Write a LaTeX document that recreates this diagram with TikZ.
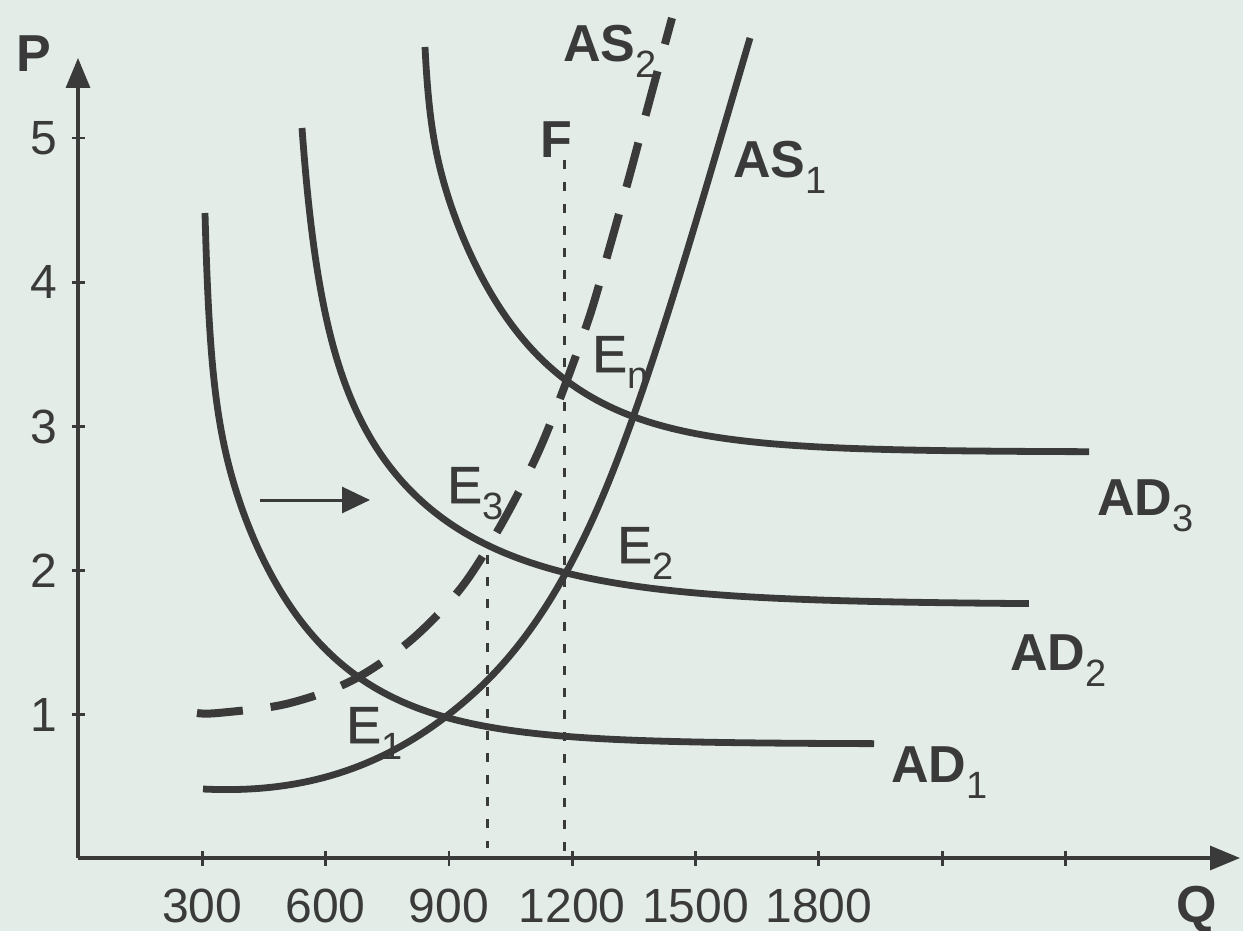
\documentclass[tikz,border=0pt]{standalone}
\usepackage{fontspec}
\setmainfont{Liberation Sans}
\newfontfamily\medfont{Liberation Sans}[FakeBold=1.2]
\usetikzlibrary{arrows.meta}
\definecolor{bgc}{HTML}{E3ECE7}
\definecolor{ink}{HTML}{3A3A3A}
\newcommand\lsub[1]{\raisebox{-8pt}{\normalfont\fontsize{19pt}{19pt}\selectfont #1}}
\begin{document}
\begin{tikzpicture}[x=0.5pt,y=-0.5pt,
  curve/.style={ink,line width=3.4pt},
  shiftcurve/.style={ink,line width=4pt,dash pattern=on 23pt off 14pt},
  guide/.style={ink,line width=1.5pt,dash pattern=on 4.5pt off 6.5pt},
  axis/.style={ink,line width=1.6pt,-{Triangle[length=15pt,width=12pt]}},
  tickmark/.style={ink,line width=1.4pt},
  ticklbl/.style={text=ink,font=\fontsize{24pt}{24pt}\selectfont,inner sep=0pt,text depth=0pt},
  lbl/.style={text=ink,font=\bfseries\fontsize{26pt}{26pt}\selectfont,inner sep=0pt,anchor=base west,text depth=0pt},
  elbl/.style={text=ink,font=\medfont\fontsize{26pt}{26pt}\selectfont,inner sep=0pt,anchor=base west}]
\fill[bgc] (0,0) rectangle (1243,931);
\useasboundingbox (0,0) rectangle (1243,931);

% axes
\coordinate (O) at (78,858);
\coordinate (ytip) at (78,58);
\coordinate (xtip) at (1240,858);
\draw[axis] (O) -- (ytip);
\draw[axis] (O) -- (xtip);

\foreach \k in {1,...,8} {
  \draw[tickmark] ({79+123.3*\k},851) -- ({79+123.3*\k},866);
}
\foreach \k/\lab in {1/300,2/600,3/900,4/1200,5/1500,6/1800} {
  \node[ticklbl,anchor=base] (xl\k) at ({79+123.3*\k},922) {\lab};
}
\foreach \p in {1,...,5} {
  \draw[tickmark] (72,{858.6-144.1*\p}) -- (85,{858.6-144.1*\p});
  \node[ticklbl] (yl\p) at (44,{858.6-144.1*\p}) {\p};
}
\node[lbl] (P) at (16,72) {P};
\node[lbl] (Q) at (1176,922) {Q};

% guide lines
\coordinate (Ftop) at (564,160);
\coordinate (Fbot) at (564,857);
\coordinate (Gtop) at (487,555);
\coordinate (Gbot) at (487,848);
\draw[guide] (Ftop) -- (Fbot);
\draw[guide] (Gtop) -- (Gbot);

% AD curves
\draw[curve] plot[variable=\t,domain=0:1,samples=250]
  ({205+670*\t*\t}, {744-330*exp(-0.0105*670*\t*\t)-201*(11.6/(670*\t*\t+11.6))^2});
\draw[curve] plot[variable=\t,domain=0:1,samples=250]
  ({302+728*\t*\t}, {605-226*exp(-0.008*728*\t*\t)-251*(42/(728*\t*\t+42))^2});
\draw[curve] plot[variable=\t,domain=0:1,samples=250]
  ({425+665*\t*\t}, {452-313*exp(-0.0105*665*\t*\t)-92*(11/(665*\t*\t+11))^2});

% AS curves
\draw[curve] (203,789) .. controls (286,793) and (370,777.4) .. (453,711)
  .. controls (499,674.2) and (544,623.9) .. (590,525)
  .. controls (643,411) and (697,218) .. (750,38);
\draw[shiftcurve] plot[smooth,tension=0.55] coordinates {(197,713) (218,713) (286,704) (351,681) (410,641) (461,588) (501,525) (537,455) (564,388) (590,315) (610,246) (630,174) (650,99) (672,18)};

% shift arrow
\coordinate (aS) at (260,500);
\coordinate (aE) at (370,500);
\draw[ink,line width=1.5pt,-{Triangle[length=14pt,width=13pt]}] (aS) -- (aE);

% labels
\node[lbl] (AS2) at (563,62) {AS\lsub{2}};
\node[lbl] (AS1) at (733,177) {AS\lsub{1}};
\node[lbl] (AD1) at (891,782) {AD\lsub{1}};
\node[lbl] (AD2) at (1010,670) {AD\lsub{2}};
\node[lbl] (AD3) at (1097,515) {AD\lsub{3}};
\node[lbl] (F) at (540,157) {F};
\node[elbl] (E1) at (346,743) {E\lsub{1}};
\node[elbl] (E3) at (447,503) {E\lsub{3}};
\node[elbl] (E2) at (617,563) {E\lsub{2}};
\node[elbl] (En) at (592,372) {E\lsub{n}};
\end{tikzpicture}
\end{document}
